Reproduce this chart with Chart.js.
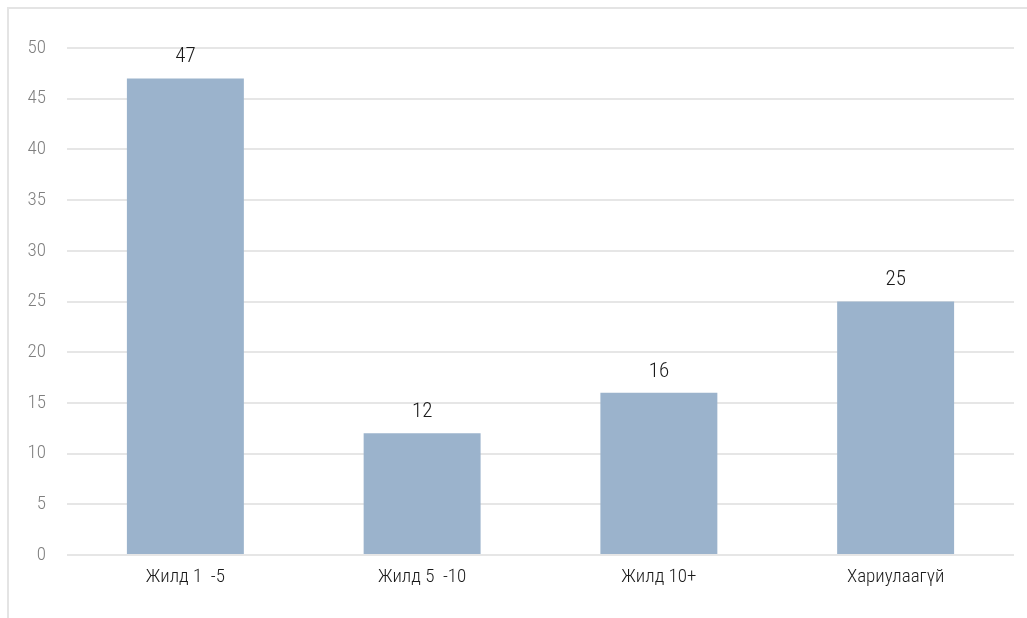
<!DOCTYPE html>
<html lang="mn">
<head>
    <meta charset="UTF-8">
    <title>Жилд</title>
    <script src="https://cdn.jsdelivr.net/npm/chart.js"></script>
    <style>
        body { margin: 0; background: #fff; overflow: hidden; }
        .frame {
            position: absolute; left: 7px; top: 7px;
            width: 1100px; height: 700px;
            border: 2px solid #e4e4e4;
        }
        #myChart { position: absolute; left: 0; top: 0; }
    </style>
</head>
<body>
    <div class="frame"></div>
    <canvas id="myChart" width="1027" height="618"></canvas>
<script>
    // categories and values
    const categories = ['Жилд 1  -5', 'Жилд 5  -10', 'Жилд 10+', 'Хариулаагүй'];
    const values = [47, 12, 16, 25];
    const yTicks = [0, 5, 10, 15, 20, 25, 30, 35, 40, 45, 50];

    const fontFamily = "'Roboto Condensed', 'Liberation Sans Narrow', Roboto, sans-serif";

    // labels above each bar
    const valueLabels = {
        id: 'valueLabels',
        afterDatasetsDraw(chart) {
            const ctx = chart.ctx;
            const meta = chart.getDatasetMeta(0);
            ctx.save();
            ctx.font = '300 21px ' + fontFamily;
            ctx.fillStyle = '#1a1a1a';
            ctx.textAlign = 'center';
            ctx.textBaseline = 'bottom';
            meta.data.forEach((bar, i) => {
                ctx.fillText(values[i], bar.x, bar.y - 11);
            });
            ctx.restore();
        }
    };

    const config = {
        type: 'bar',
        data: {
            labels: categories,
            datasets: [{
                data: values,
                backgroundColor: '#9bb3cc',
                categoryPercentage: 1,
                barPercentage: 0.494
            }]
        },
        options: {
            responsive: false,
            animation: false,
            layout: { padding: { left: 0, right: 13, top: 48, bottom: 0 } },
            plugins: {
                legend: { display: false },
                tooltip: { enabled: false }
            },
            scales: {
                x: {
                    grid: { display: false, drawTicks: false },
                    border: { display: false },
                    ticks: {
                        color: '#1a1a1a',
                        padding: 11,
                        font: { family: fontFamily, size: 19, weight: 300 }
                    },
                    afterFit(scale) { scale.height = 63; }
                },
                y: {
                    min: 0,
                    max: 50,
                    afterBuildTicks(scale) {
                        scale.ticks = yTicks.map(v => ({ value: v }));
                    },
                    grid: { color: '#e6e6e6', lineWidth: 2, drawTicks: false },
                    border: { display: false },
                    ticks: {
                        color: '#7f7f7f',
                        padding: 21,
                        font: { family: fontFamily, size: 19, weight: 300 }
                    },
                    afterFit(scale) { scale.width = 67; }
                }
            }
        },
        plugins: [valueLabels]
    };

    let myChart = new Chart(document.getElementById('myChart'), config);
</script>
</body>
</html>
